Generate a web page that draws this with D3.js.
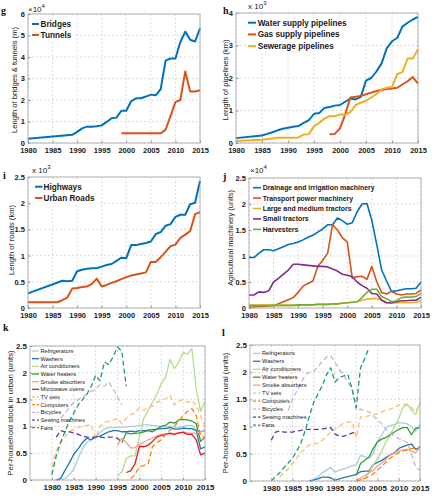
<!DOCTYPE html>
<html><head><meta charset="utf-8">
<script src="https://cdn.jsdelivr.net/npm/d3@7"></script>
<style>body{margin:0;background:#fff}svg{display:block;font-family:"Liberation Sans",Arial,Helvetica,sans-serif}</style>
</head><body><svg id="c" width="442" height="500"></svg>
<script>
// ---------- DATA ----------
const yearTicks = [1980,1985,1990,1995,2000,2005,2010,2015];

// g: bridges & tunnels (x10^4 m)
const bridgesYears = [1980].concat(d3.range(1989, 2016));
const bridgesVals  = [0.2,0.38,0.52,0.68,0.76,0.76,0.78,0.82,0.98,1.15,1.18,1.5,1.5,1.95,2.08,2.08,2.16,2.25,2.22,2.5,3.83,3.93,3.93,4.7,5.18,4.8,4.72,5.33];
const tunnelsYears = [1999].concat(d3.range(2007, 2016));
const tunnelsVals  = [0.45,0.45,0.62,1.25,1.9,2.0,3.33,2.4,2.4,2.45];

// h: pipelines (x10^3 km)
const waterYears = [1980].concat(d3.range(1985, 2016));
const waterVals  = [0.15,0.23,0.28,0.33,0.39,0.44,0.47,0.5,0.52,0.62,0.7,0.9,0.92,1.08,1.11,1.15,1.17,1.27,1.37,1.34,1.42,1.92,2.0,2.2,2.45,2.92,3.13,3.23,3.58,3.7,3.8,3.88];
const gasYears   = d3.range(1998, 2016);
const gasVals    = [0.27,0.28,0.45,0.88,1.4,1.42,1.45,1.5,1.55,1.6,1.63,1.66,1.68,1.7,1.8,1.9,2.03,1.83];
const sewerYears = [1980].concat(d3.range(1985, 2016));
const sewerVals  = [0.06,0.1,0.12,0.14,0.16,0.16,0.16,0.16,0.17,0.26,0.27,0.52,0.62,0.75,0.83,0.82,0.88,0.87,0.95,1.17,1.24,1.3,1.4,1.5,1.65,1.7,1.73,2.12,2.18,2.6,2.6,2.88];

// i: roads (x10^3 km)
const highwayYears = [1980].concat(d3.range(1987, 2016));
const highwayVals  = [0.28,0.52,0.51,0.52,0.7,0.73,0.75,0.76,0.76,0.79,0.82,0.84,0.9,0.96,0.95,1.2,1.2,1.22,1.24,1.27,1.41,1.45,1.57,1.6,1.74,1.78,1.78,1.98,2.01,2.43];
const urbanRoadYears = [1980].concat(d3.range(1986, 2016));
const urbanRoadVals  = [0.11,0.11,0.15,0.2,0.37,0.38,0.4,0.41,0.46,0.56,0.41,0.44,0.48,0.51,0.55,0.59,0.62,0.64,0.66,0.68,0.88,0.88,0.97,1.07,1.18,1.21,1.34,1.4,1.47,1.79,1.83];

// j: agricultural machinery (x10^4 units), 1980-2015
const machYears = d3.range(1980, 2016);
const drainageVals  = [0.97,0.97,1.05,1.12,1.12,1.1,1.14,1.18,1.22,1.24,1.27,1.31,1.36,1.4,1.46,1.52,1.6,1.6,1.73,1.68,1.61,1.64,1.85,2.0,2.01,1.68,1.22,0.73,0.52,0.32,0.33,0.35,0.37,0.37,0.38,0.5];
const transportVals = [0.02,0.02,0.03,0.03,0.04,0.05,0.08,0.12,0.16,0.2,0.3,0.42,0.47,0.52,0.8,0.92,1.05,1.6,1.5,1.35,1.27,0.58,0.6,0.61,0.55,0.8,0.5,0.3,0.27,0.32,0.27,0.25,0.27,0.27,0.28,0.35];
const largeTractorVals = [0.05,0.05,0.05,0.05,0.05,0.05,0.05,0.05,0.05,0.05,0.05,0.06,0.06,0.06,0.07,0.07,0.07,0.08,0.08,0.09,0.1,0.11,0.12,0.15,0.17,0.18,0.18,0.15,0.1,0.09,0.1,0.1,0.1,0.1,0.11,0.14];
const smallTractorVals = [0.25,0.25,0.31,0.3,0.33,0.5,0.57,0.65,0.73,0.84,0.84,0.83,0.82,0.81,0.8,0.8,0.79,0.75,0.71,0.65,0.63,0.6,0.5,0.43,0.38,0.28,0.27,0.15,0.1,0.1,0.12,0.14,0.14,0.15,0.15,0.21];
const harvesterVals = [0.05,0.05,0.05,0.05,0.05,0.05,0.05,0.05,0.05,0.05,0.06,0.06,0.06,0.06,0.07,0.07,0.07,0.08,0.08,0.09,0.1,0.11,0.12,0.2,0.3,0.36,0.36,0.22,0.18,0.12,0.14,0.2,0.21,0.21,0.22,0.28];

// k: urban per-household stock
const kRefrigYears = d3.range(1981, 2016);
const kRefrigVals  = [0,0.01,0.03,0.1,0.2,0.4,0.58,0.7,0.75,0.8,0.88,0.95,0.98,0.98,0.98,0.98,0.99,1.0,1.0,1.02,1.03,1.03,1.02,1.01,1.0,0.99,1.0,0.98,0.98,1.0,1.02,1.02,0.95,0.9,0.95];
const kWasherYears = d3.range(1981, 2016);
const kWasherVals  = [0,0.03,0.18,0.32,0.48,0.58,0.7,0.78,0.75,0.8,0.82,0.86,0.9,0.92,0.92,0.9,0.9,0.91,0.9,0.92,0.92,0.93,0.94,0.95,0.96,0.96,0.98,0.95,0.95,0.97,0.96,0.96,0.92,0.58,0.62];
const kACYears = d3.range(1995, 2016);
const kACVals  = [0.08,0.15,0.4,0.45,0.45,0.8,1.15,1.3,1.45,1.6,1.8,1.92,2.25,2.08,2.2,2.38,2.35,2.45,1.7,1.28,1.47];
const kHeaterYears = d3.range(1996, 2016);
const kHeaterVals  = [0.7,0.88,0.86,0.87,0.88,0.9,0.92,0.9,0.95,1.0,1.02,1.08,1.06,1.12,1.13,1.12,1.1,1.05,0.72,0.8];
const kSmokeYears = d3.range(1995, 2016);
const kSmokeVals  = [0.65,0.78,0.7,0.6,0.6,0.67,0.7,0.75,0.78,0.82,0.85,0.86,0.88,0.86,0.88,0.9,0.88,0.87,0.88,0.9,0.91];
const kMicroYears = d3.range(1997, 2016);
const kMicroVals  = [0.14,0.17,0.3,0.63,0.62,0.65,0.72,0.8,0.83,0.85,0.87,0.85,0.88,0.89,0.85,0.85,0.75,0.47,0.5];
const kTVYears = d3.range(1980, 2016);
const kTVVals  = [0.25,0.55,0.7,0.8,0.9,0.95,0.98,1.0,1.02,1.03,0.78,1.0,1.08,1.1,1.12,1.15,1.05,1.15,1.22,1.25,1.35,1.3,1.35,1.38,1.45,1.48,1.52,1.58,1.4,1.47,1.5,1.45,1.48,1.4,1.2,1.0];
const kCompYears = d3.range(1998, 2016);
const kCompVals  = [0.03,0.1,0.25,0.27,0.3,0.62,0.7,0.75,0.85,0.93,1.0,1.1,1.2,1.28,1.33,1.2,0.82,0.8];
const kBikeYears = d3.range(1982, 1997);
const kBikeVals  = [1.15,1.25,1.35,1.45,1.5,1.55,1.6,1.65,1.7,1.78,1.75,1.83,1.7,1.55,1.4];
const kSewYears = d3.range(1981, 1997);
const kSewVals  = [0.8,0.92,0.9,0.9,0.88,0.85,0.82,0.8,0.8,0.8,0.8,0.79,0.8,0.8,0.78,0.7];
const kFanYears = d3.range(1980, 1998);
const kFanVals  = [0.1,0.45,0.7,0.9,1.1,1.25,1.4,1.5,1.6,1.75,1.95,1.85,2.2,2.15,2.3,2.48,2.4,1.75];

// l: rural per-household stock
const lRefrigYears = d3.range(1989, 2016);
const lRefrigVals  = [0,0.02,0.08,0.15,0.2,0.25,0.16,0.2,0.22,0.25,0.28,0.3,0.47,0.45,0.42,0.5,0.73,0.85,0.98,1.02,1.04,1.07,1.07,1.05,1.0,0.92,1.04];
const lWasherYears = d3.range(1989, 2016);
const lWasherVals  = [0,0.02,0.04,0.07,0.07,0.06,0.01,0.04,0.06,0.08,0.1,0.12,0.17,0.18,0.18,0.3,0.34,0.38,0.43,0.48,0.52,0.6,0.63,0.66,0.68,0.58,0.62];
const lACYears = d3.range(2001, 2016);
const lACVals  = [0.02,0.05,0.15,0.3,0.4,0.55,0.72,0.85,1.0,1.15,1.35,1.42,1.3,1.22,1.45];
const lHeaterYears = d3.range(2000, 2016);
const lHeaterVals  = [0.1,0.32,0.38,0.44,0.6,0.72,0.77,0.8,0.85,0.9,0.95,0.98,0.98,0.85,0.97,0.98];
const lSmokeYears = d3.range(2000, 2016);
const lSmokeVals  = [0.02,0.05,0.1,0.15,0.2,0.27,0.33,0.4,0.48,0.53,0.55,0.57,0.58,0.55,0.52,0.62];
const lTVYears = d3.range(1982, 2016);
const lTVVals  = [0.08,0.15,0.22,0.32,0.42,0.52,0.6,0.67,0.68,0.7,0.75,0.82,0.9,0.96,1.0,1.06,1.08,1.09,0.8,1.18,1.18,1.2,1.22,1.24,1.27,1.3,1.32,1.35,1.4,1.42,1.38,1.35,1.27,1.42];
const lCompYears = d3.range(2000, 2016);
const lCompVals  = [0,0.02,0.05,0.08,0.13,0.2,0.27,0.35,0.42,0.48,0.52,0.55,0.57,0.6,0.6,0.63];
const lBikeYears = d3.range(1984, 2016);
const lBikeVals  = [1.3,1.5,1.65,1.8,1.95,2.0,2.02,2.1,2.2,2.28,2.3,2.18,2.05,1.95,1.82,1.7,1.3,1.32,1.3,1.27,1.2,1.12,1.05,0.95,0.88,0.82,0.78,0.75,0.7,0.5,0.25,0.2];
const lSewYears = d3.range(1980, 2001);
const lSewVals  = [0.75,0.9,0.92,0.9,0.9,0.9,0.92,0.93,0.95,0.95,0.95,0.95,0.96,0.97,0.98,0.86,0.83,0.82,0.85,0.88,0.9];
const lFanYears = d3.range(1980, 2004);
const lFanVals  = [0,0.08,0.15,0.25,0.33,0.42,0.55,0.7,0.93,1.2,1.45,1.6,1.75,1.95,2.08,1.82,1.9,1.93,1.96,1.7,1.35,2.08,2.25,2.45];

// ---------- COLOURS ----------
const C = {blue:"#0072BD", red:"#D95319", yellow:"#EDB120", purple:"#7E2F8E", green:"#77AC30"};
const P = {refrig:"#a6cee3", washer:"#1f78b4", ac:"#b2df8a", heater:"#33a02c", smoke:"#fb9a99", micro:"#e31a1c",
           tv:"#fdbf6f", comp:"#ff7f00", bike:"#cab2d6", sew:"#5a3d9a", fan:"#1f9a74"};

const svg = d3.select("#c");
const zip = (ys, vs) => ys.map((yr, i) => [yr, vs[i]]);

function panel(p) {
  const x = d3.scaleLinear().domain(p.xDomain).range([p.x0, p.x1]);
  const y = d3.scaleLinear().domain(p.yDomain).range([p.y1, p.y0]);
  const g = svg.append("g");
  // grid
  g.selectAll(null).data(p.xTicks).join("line")
    .attr("x1", d => x(d)).attr("x2", d => x(d)).attr("y1", p.y0).attr("y2", p.y1)
    .attr("stroke", "#d4d4d4").attr("stroke-width", 0.8).attr("stroke-dasharray", "2,2");
  g.selectAll(null).data(p.yTicks).join("line")
    .attr("x1", p.x0).attr("x2", p.x1).attr("y1", d => y(d)).attr("y2", d => y(d))
    .attr("stroke", "#d4d4d4").attr("stroke-width", 0.8).attr("stroke-dasharray", "2,2");
  // legend background (drawn under the data lines)
  const L = p.legend;
  const lbg = g.append("g");
  // series
  const line = d3.line().x(d => x(d[0])).y(d => y(d[1]));
  p.series.forEach(s => {
    g.append("path").datum(zip(s.years, s.vals)).attr("d", line)
      .attr("fill", "none").attr("stroke", s.color).attr("stroke-width", p.lw)
      .attr("stroke-dasharray", s.dash ? "5,3" : null).attr("stroke-linejoin", "round");
  });
  // axes
  const ax = g.append("g").attr("transform", `translate(0,${p.y1})`)
    .call(d3.axisBottom(x).tickValues(p.xTicks).tickFormat(d3.format("d")).tickSizeInner(-2.5).tickSizeOuter(0).tickPadding(4.5));
  const ay = g.append("g").attr("transform", `translate(${p.x0},0)`)
    .call(d3.axisLeft(y).tickValues(p.yTicks).tickFormat(p.yFmt || (d => d)).tickSizeInner(-2.5).tickSizeOuter(0).tickPadding(3));
  [ax, ay].forEach(a => {
    a.select(".domain").remove();
    a.selectAll("line").attr("stroke", "#999");
    a.selectAll("text").attr("font-size", p.tickFs).attr("font-weight", "bold").attr("fill", "#1a1a1a")
      .attr("font-family", "'Liberation Sans',Arial,sans-serif");
  });
  g.append("rect").attr("x", p.x0).attr("y", p.y0).attr("width", p.x1 - p.x0).attr("height", p.y1 - p.y0)
    .attr("fill", "none").attr("stroke", "#a0a0a0").attr("stroke-width", 0.8);
  // legend
  const lg = g.append("g");
  p.series.forEach((s, i) => {
    const yy = L.y + i * L.step;
    lg.append("line").attr("x1", L.x).attr("x2", L.x + L.len).attr("y1", yy).attr("y2", yy)
      .attr("stroke", s.color).attr("stroke-width", p.lw).attr("stroke-dasharray", s.dash ? "3,2" : null);
    lg.append("text").attr("x", L.x + L.len + L.gap).attr("y", yy).attr("dy", "0.35em")
      .attr("font-size", L.fs).attr("font-weight", L.bold ? "bold" : "normal").attr("fill", "#1a1a1a").text(s.name);
  });
  if (L.bg) {
    const bb = lg.node().getBBox();
    lbg.append("rect").attr("fill", "#fff").attr("x", bb.x - 2).attr("y", bb.y - 1).attr("width", bb.width + 4).attr("height", bb.height + 2);
  }
  // y label
  g.append("text").attr("transform", `translate(${p.ylab.x},${p.ylab.y}) rotate(-90)`)
    .attr("text-anchor", "middle").attr("font-size", p.ylab.fs).attr("fill", "#1a1a1a").text(p.ylab.t);
  // exponent
  if (p.exp) {
    const t = g.append("text").attr("x", p.exp.x).attr("y", p.exp.y).attr("font-size", 8).attr("fill", "#1a1a1a");
    t.append("tspan").text(p.exp.t);
    t.append("tspan").attr("dy", -4).attr("font-size", 6).text(p.exp.sup);
  }
  // panel letter
  svg.append("text").attr("x", p.letter.x).attr("y", p.letter.y).attr("font-family", "'Liberation Serif','DejaVu Serif',serif")
    .attr("font-weight", "bold").attr("font-size", 10).attr("fill", "#111").text(p.letter.t);
}

const baseTop = {lw: 2, tickFs: 7.5, xDomain: [1980, 2015], xTicks: yearTicks};

panel(Object.assign({}, baseTop, {
  x0: 28, x1: 200, y0: 14, y1: 143, yDomain: [0, 6], yTicks: [0,1,2,3,4,5,6],
  series: [
    {name: "Bridges", years: bridgesYears, vals: bridgesVals, color: C.blue},
    {name: "Tunnels", years: tunnelsYears, vals: tunnelsVals, color: C.red}],
  legend: {x: 32, y: 24, step: 11, len: 7, gap: 1.5, fs: 8.2, bold: true, bg: true},
  ylab: {t: "Length of bridges & tunnels (m)", x: 16.5, y: 80, fs: 7.6},
  exp: {t: "×10", sup: "4", x: 28, y: 12},
  letter: {t: "g", x: 1, y: 14}
}));

panel(Object.assign({}, baseTop, {
  x0: 236, x1: 418, y0: 13, y1: 143, yDomain: [0, 4], yTicks: [0,1,2,3,4],
  series: [
    {name: "Water supply pipelines", years: waterYears, vals: waterVals, color: C.blue},
    {name: "Gas supply pipelines", years: gasYears, vals: gasVals, color: C.red},
    {name: "Sewerage pipelines", years: sewerYears, vals: sewerVals, color: C.yellow}],
  legend: {x: 248, y: 22.7, step: 11.7, len: 8, gap: 1.7, fs: 8.2, bold: true, bg: true},
  ylab: {t: "Length of pipelines (km)", x: 228, y: 80, fs: 7.6},
  exp: {t: "x 10", sup: "3", x: 248, y: 9},
  letter: {t: "h", x: 223, y: 14}
}));

panel(Object.assign({}, baseTop, {
  x0: 28, x1: 200, y0: 177, y1: 308, yDomain: [0, 2.5], yTicks: [0,0.5,1,1.5,2,2.5],
  series: [
    {name: "Highways", years: highwayYears, vals: highwayVals, color: C.blue},
    {name: "Urban Roads", years: urbanRoadYears, vals: urbanRoadVals, color: C.red}],
  legend: {x: 35, y: 186.7, step: 11.3, len: 7.5, gap: 1, fs: 8.2, bold: true, bg: true},
  ylab: {t: "Length of roads (km)", x: 14, y: 240, fs: 7.6},
  exp: {t: "x 10", sup: "3", x: 32, y: 173},
  letter: {t: "i", x: 3, y: 179}
}));

panel(Object.assign({}, baseTop, {
  x0: 249, x1: 421, y0: 178, y1: 308, yDomain: [0, 2.5], yTicks: [0,0.5,1,1.5,2,2.5], lw: 1.6,
  series: [
    {name: "Drainage and irrigation machinery", years: machYears, vals: drainageVals, color: C.blue},
    {name: "Transport power machinery", years: machYears, vals: transportVals, color: C.red},
    {name: "Large and medium tractors", years: machYears, vals: largeTractorVals, color: C.yellow},
    {name: "Small tractors", years: machYears, vals: smallTractorVals, color: C.purple},
    {name: "Harvesters", years: machYears, vals: harvesterVals, color: C.green}],
  legend: {x: 253, y: 187.7, step: 10.4, len: 8, gap: 1.7, fs: 6.9, bold: true, bg: false},
  ylab: {t: "Agricultural machinery (units)", x: 233, y: 238, fs: 7.4},
  exp: {t: "×10", sup: "4", x: 250, y: 173},
  letter: {t: "j", x: 223, y: 180}
}));

const householdTicks = [0,0.5,1,1.5,2,2.5];
panel({
  lw: 1.3, tickFs: 8, xDomain: [1975, 2015], xTicks: yearTicks,
  x0: 30, x1: 205, y0: 346, y1: 480, yDomain: [0, 2.5], yTicks: householdTicks,
  series: [
    {name: "Refrigerators", years: kRefrigYears, vals: kRefrigVals, color: P.refrig},
    {name: "Washers", years: kWasherYears, vals: kWasherVals, color: P.washer},
    {name: "Air conditioners", years: kACYears, vals: kACVals, color: P.ac},
    {name: "Water heaters", years: kHeaterYears, vals: kHeaterVals, color: P.heater},
    {name: "Smoke absorbers", years: kSmokeYears, vals: kSmokeVals, color: P.smoke},
    {name: "Microwave ovens", years: kMicroYears, vals: kMicroVals, color: P.micro},
    {name: "TV sets", years: kTVYears, vals: kTVVals, color: P.tv, dash: true},
    {name: "Computers", years: kCompYears, vals: kCompVals, color: P.comp, dash: true},
    {name: "Bicycles", years: kBikeYears, vals: kBikeVals, color: P.bike, dash: true},
    {name: "Sewing machines", years: kSewYears, vals: kSewVals, color: P.sew, dash: true},
    {name: "Fans", years: kFanYears, vals: kFanVals, color: P.fan, dash: true}],
  legend: {x: 32, y: 351, step: 7.67, len: 7, gap: 1.5, fs: 5.7, bold: false, bg: false},
  ylab: {t: "Per-household stock in urban (units)", x: 13, y: 413, fs: 7.8},
  letter: {t: "k", x: 3, y: 331}
});

panel({
  lw: 1.3, tickFs: 8, xDomain: [1975, 2015], xTicks: yearTicks,
  x0: 250, x1: 420, y0: 345, y1: 481, yDomain: [0, 2.5], yTicks: householdTicks,
  series: [
    {name: "Refrigerators", years: lRefrigYears, vals: lRefrigVals, color: P.refrig},
    {name: "Washers", years: lWasherYears, vals: lWasherVals, color: P.washer},
    {name: "Air conditioners", years: lACYears, vals: lACVals, color: P.ac},
    {name: "Water heaters", years: lHeaterYears, vals: lHeaterVals, color: P.heater},
    {name: "Smoke absorbers", years: lSmokeYears, vals: lSmokeVals, color: P.smoke},
    {name: "TV sets", years: lTVYears, vals: lTVVals, color: P.tv, dash: true},
    {name: "Computers", years: lCompYears, vals: lCompVals, color: P.comp, dash: true},
    {name: "Bicycles", years: lBikeYears, vals: lBikeVals, color: P.bike, dash: true},
    {name: "Sewing machines", years: lSewYears, vals: lSewVals, color: P.sew, dash: true},
    {name: "Fans", years: lFanYears, vals: lFanVals, color: P.fan, dash: true}],
  legend: {x: 253, y: 353.3, step: 7.97, len: 7.5, gap: 1.5, fs: 5.7, bold: false, bg: false},
  ylab: {t: "Per-household stock in rural (units)", x: 228, y: 413, fs: 7.8},
  letter: {t: "l", x: 222, y: 336}
});
</script></body></html>
